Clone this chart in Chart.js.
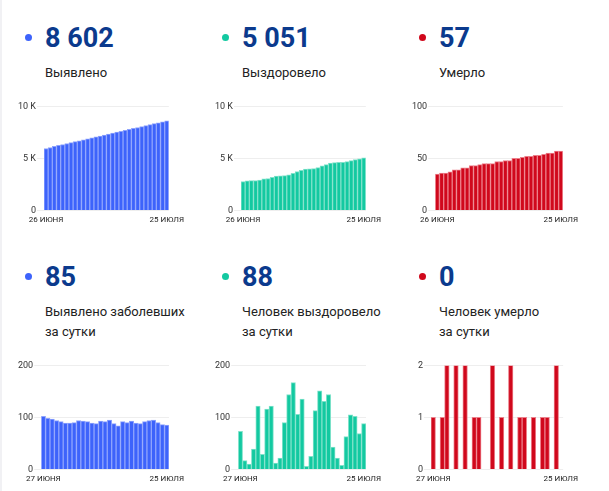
<!DOCTYPE html>
<html>
<head>
<meta charset="utf-8">
<script src="https://cdn.jsdelivr.net/npm/chart.js@4"></script>
<style>
  body { margin: 0; background: #fff; font-family: Roboto, Arial, sans-serif; }
  #page { position: relative; width: 609px; height: 491px; overflow: hidden; }
  #edge { position: absolute; left: 0; top: 0; width: 2px; height: 491px; background: #f1f1f4; }
  .dot { position: absolute; width: 7px; height: 7px; border-radius: 50%; }
  .num { position: absolute; font-weight: 700; font-size: 27px; line-height: 29px; color: #0b3a8d; white-space: nowrap; }
  .lbl { position: absolute; font-size: 13px; line-height: 20px; color: #222; white-space: nowrap; }
  canvas { position: absolute; }
</style>
</head>
<body>
<div id="page"><div id="edge"></div></div>
<script>
// dates
const totalLabels = ['26 июня','27 июня','28 июня','29 июня','30 июня',
  '1 июля','2 июля','3 июля','4 июля','5 июля','6 июля','7 июля','8 июля','9 июля','10 июля',
  '11 июля','12 июля','13 июля','14 июля','15 июля','16 июля','17 июля','18 июля','19 июля','20 июля',
  '21 июля','22 июля','23 июля','24 июля','25 июля'];
const dailyLabels = totalLabels.slice(1);

// cumulative
const casesTotal = [5949, 6051, 6149, 6246, 6340, 6432, 6521, 6610, 6700, 6794, 6887, 6979, 7068, 7156, 7249,
  7341, 7436, 7524, 7608, 7700, 7790, 7883, 7972, 8060, 8152, 8246, 8341, 8431, 8517, 8602];
const recoveredTotal = [2777, 2850, 2867, 2877, 2916, 3038, 3067, 3183, 3305, 3317, 3339, 3429, 3573, 3740, 3846,
  3981, 3987, 4012, 4125, 4276, 4407, 4551, 4594, 4616, 4624, 4687, 4792, 4894, 4963, 5051];
const deathsTotal = [35, 36, 36, 37, 39, 39, 41, 41, 43, 43, 44, 45, 45, 45, 47,
  47, 48, 48, 50, 50, 51, 52, 52, 53, 53, 54, 55, 55, 57, 57];

// per day
const casesDaily = [102, 98, 97, 94, 92, 89, 89, 90, 94, 93, 92, 89, 88, 93, 92,
  95, 88, 84, 92, 90, 93, 89, 88, 92, 94, 95, 90, 86, 85];
const recoveredDaily = [73, 17, 10, 39, 122, 29, 116, 122, 12, 22, 90, 144, 167, 106, 135,
  6, 25, 113, 151, 131, 144, 43, 22, 8, 63, 105, 102, 69, 88];
const deathsDaily = [1, 0, 1, 2, 0, 2, 0, 2, 0, 1, 1, 0, 0, 2, 0,
  1, 0, 2, 0, 1, 1, 0, 1, 0, 1, 1, 0, 2, 0];

const headlines = ['8 602', '5 051', '57', '85', '88', '0'];
const captions = [['Выявлено'], ['Выздоровело'], ['Умерло'],
  ['Выявлено заболевших', 'за сутки'], ['Человек выздоровело', 'за сутки'], ['Человек умерло', 'за сутки']];

const colors = ['#3d63fb', '#13c9a1', '#d0081c'];
const borders = ['#8ea3fd', '#7fe2ca', '#ec7f8a'];

const page = document.getElementById('page');
const colX = [0, 197, 394];

function el(cls, x, y, text) {
  const d = document.createElement('div');
  d.className = cls;
  d.style.left = x + 'px';
  d.style.top = y + 'px';
  if (text) d.textContent = text;
  page.appendChild(d);
  return d;
}

function kFmt(v) { return v === 0 ? '0' : (v / 1000) + ' K'; }

function makeChart(i, row, labels, values, yMax, yStep, fmt) {
  const col = i % 3;
  const c = document.createElement('canvas');
  c.width = 172;
  c.height = 130;
  c.style.left = (colX[col] + 17) + 'px';
  c.style.top = (row === 0 ? 100 : 359) + 'px';
  page.appendChild(c);
  const last = labels.length - 1;
  new Chart(c, {
    type: 'bar',
    data: {
      labels: labels,
      datasets: [{
        data: values,
        backgroundColor: colors[col],
        borderColor: borders[col],
        borderWidth: 1,
        barPercentage: 1,
        categoryPercentage: 1
      }]
    },
    options: {
      responsive: false,
      animation: false,
      plugins: { legend: { display: false }, tooltip: { enabled: false } },
      scales: {
        x: {
          grid: { display: false, drawTicks: false, tickLength: 0 },
          border: { display: false },
          ticks: {
            autoSkip: false, maxRotation: 0, padding: 5,
            color: '#222', font: { family: 'Roboto', size: 8 },
            callback: (v, idx) => (idx === 0 || idx === last) ? labels[idx].toUpperCase() : ''
          }
        },
        y: {
          min: 0, max: yMax,
          grid: { color: '#eeeeee', tickLength: 7, drawTicks: true },
          border: { display: false },
          ticks: {
            stepSize: yStep, padding: 1,
            color: '#333', font: { family: 'Roboto', size: 9 },
            callback: fmt
          }
        }
      }
    }
  });
}

for (let i = 0; i < 6; i++) {
  const col = i % 3, row = i < 3 ? 0 : 1;
  const x = colX[col];
  const dotY = row === 0 ? 34 : 273;
  const numY = row === 0 ? 24 : 263;
  const lblY = row === 0 ? 63 : 302;
  el('dot', x + 25, dotY).style.background = colors[col];
  el('num', x + 45, numY, headlines[i]);
  const l = el('lbl', x + 45, lblY);
  l.innerHTML = captions[i].join('<br>');
}

makeChart(0, 0, totalLabels, casesTotal, 10000, 5000, kFmt);
makeChart(1, 0, totalLabels, recoveredTotal, 10000, 5000, kFmt);
makeChart(2, 0, totalLabels, deathsTotal, 100, 50, v => v);
makeChart(3, 1, dailyLabels, casesDaily, 200, 100, v => v);
makeChart(4, 1, dailyLabels, recoveredDaily, 200, 100, v => v);
makeChart(5, 1, dailyLabels, deathsDaily, 2, 1, v => v);
</script>
</body>
</html>
